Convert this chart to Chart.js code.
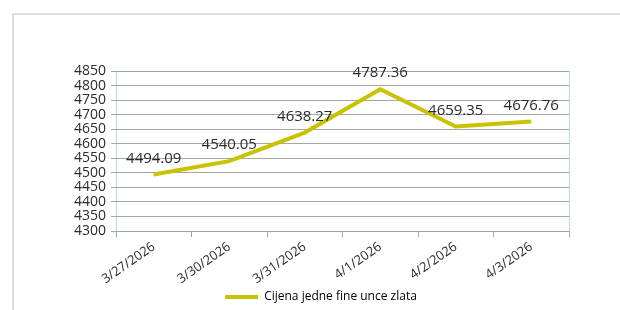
<!DOCTYPE html>
<html>
<head>
<meta charset="utf-8">
<script src="https://cdn.jsdelivr.net/npm/chart.js@4"></script>
<style>
  body { margin: 0; background: #fff; }
  .wrap { position: relative; width: 620px; height: 310px; overflow: hidden; }
  .frame { position: absolute; left: 12px; top: 13px; width: 700px; height: 400px;
    border-left: 2px solid #dcdcdc; border-top: 2px solid #dcdcdc; }
  canvas { position: absolute; left: 0; top: 0; }
</style>
</head>
<body>
<div class="wrap">
  <div class="frame"></div>
  <canvas id="chart" width="620" height="310"></canvas>
</div>
<script>
const dates = ['3/27/2026', '3/30/2026', '3/31/2026', '4/1/2026', '4/2/2026', '4/3/2026'];
const prices = [4494.09, 4540.05, 4638.27, 4787.36, 4659.35, 4676.76];
const seriesName = 'Cijena jedne fine unce zlata';
const yMin = 4300;
const yMax = 4850;
const yStep = 50;

const lineColor = 'rgb(200, 195, 0)';
const textColor = '#2b2b2b';
const fontFamily = '"Open Sans", sans-serif';

// value labels above each point
const valueLabels = {
  id: 'valueLabels',
  afterDatasetsDraw(chart) {
    const ctx = chart.ctx;
    const meta = chart.getDatasetMeta(0);
    ctx.save();
    ctx.font = '15px ' + fontFamily;
    ctx.fillStyle = textColor;
    ctx.textAlign = 'center';
    ctx.textBaseline = 'middle';
    meta.data.forEach((pt, i) => {
      ctx.fillText(prices[i].toFixed(2), pt.x, pt.y - 16);
    });
    ctx.restore();
  }
};

// dotted blue border round the plot area
const plotBorder = {
  id: 'plotBorder',
  beforeDatasetsDraw(chart) {
    const { ctx, chartArea: a } = chart;
    ctx.save();
    ctx.strokeStyle = '#7aaad6';
    ctx.lineWidth = 1;
    ctx.setLineDash([1, 1]);
    ctx.strokeRect(Math.round(a.left) + 0.5, Math.round(a.top) + 0.5,
      Math.round(a.right - a.left), Math.round(a.bottom - a.top));
    ctx.restore();
  }
};

new Chart(document.getElementById('chart'), {
  type: 'line',
  data: {
    labels: dates,
    datasets: [{
      label: seriesName,
      data: prices,
      borderColor: lineColor,
      backgroundColor: lineColor,
      borderWidth: 4,
      pointRadius: 0,
      tension: 0
    }]
  },
  options: {
    responsive: false,
    animation: false,
    layout: { padding: { left: 73, right: 51, top: 71, bottom: -3 } },
    plugins: {
      tooltip: { enabled: false },
      legend: {
        position: 'bottom',
        labels: {
          boxWidth: 33,
          boxHeight: 4,
          padding: 6,
          color: textColor,
          font: { family: fontFamily, size: 12 },
          generateLabels(chart) {
            return chart.data.datasets.map((ds, i) => ({
              text: ds.label,
              fillStyle: ds.borderColor,
              strokeStyle: ds.borderColor,
              lineWidth: 0,
              datasetIndex: i
            }));
          }
        }
      }
    },
    scales: {
      x: {
        offset: true,
        grid: { offset: true, drawOnChartArea: false, tickLength: 6, color: '#a6a6a6' },
        border: { display: false },
        ticks: {
          minRotation: 35,
          maxRotation: 35,
          padding: 2,
          color: textColor,
          font: { family: fontFamily, size: 13 }
        },
        afterFit(scale) { scale.height = 54; }
      },
      y: {
        min: yMin,
        max: yMax,
        grid: { color: '#a6a6a6', tickLength: 5 },
        border: { display: false },
        ticks: {
          stepSize: yStep,
          autoSkip: false,
          padding: 5,
          color: textColor,
          font: { family: fontFamily, size: 14 },
          callback: (v) => String(v)
        },
        afterFit(scale) { scale.width = 43; }
      }
    }
  },
  plugins: [plotBorder, valueLabels]
});
</script>
</body>
</html>
